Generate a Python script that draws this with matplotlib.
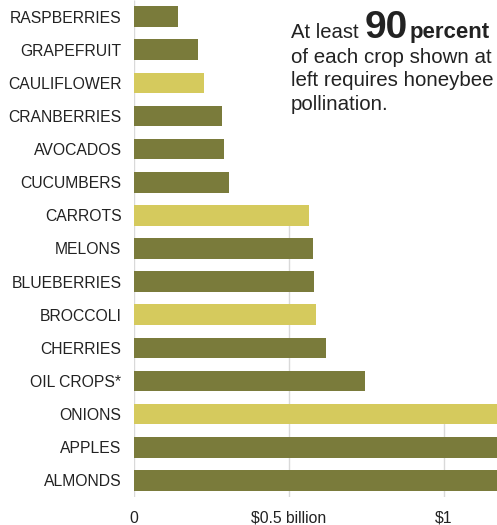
import matplotlib
matplotlib.use("Agg")
import matplotlib.pyplot as plt

# === DATA (billions of dollars) ===
crops = ["RASPBERRIES", "GRAPEFRUIT", "CAULIFLOWER", "CRANBERRIES", "AVOCADOS",
         "CUCUMBERS", "CARROTS", "MELONS", "BLUEBERRIES", "BROCCOLI",
         "CHERRIES", "OIL CROPS*", "ONIONS", "APPLES", "ALMONDS"]
values = [0.142, 0.206, 0.226, 0.284, 0.290,
          0.307, 0.563, 0.577, 0.581, 0.588,
          0.620, 0.746, 1.30, 1.60, 4.00]
vegetable = [False, False, True, False, False,
             False, True, False, False, True,
             False, False, True, False, False]
tick_vals = [0, 0.5, 1]
tick_labels = ["0", "$0.5 billion", "$1"]

OLIVE = "#7a7b3b"
YELLOW = "#d5ca5d"
GRID = "#d9d9d9"
TEXT = "#222222"

plt.rcParams["font.family"] = ["Liberation Sans", "DejaVu Sans"]

fig = plt.figure(figsize=(4.97, 5.25), dpi=100)
ax = fig.add_axes([134 / 497, 28 / 525, 363 / 497, 497 / 525])

ypos = list(range(len(crops)))
colors = [YELLOW if v else OLIVE for v in vegetable]
ax.barh(ypos, values, height=0.62, color=colors, zorder=2)

# gridlines start at the first bar that reaches them
for t in tick_vals:
    first = next((i for i, v in enumerate(values) if v > t and t > 0), None)
    top = -0.5 if first is None else first
    ax.vlines(t, top, len(crops) - 0.5, color=GRID, lw=1, zorder=1)

ax.set_xlim(0, 1.171)
ax.set_ylim(len(crops) - 0.5, -0.5)
ax.set_yticks(ypos)
ax.set_yticklabels(crops, fontsize=11.3, color=TEXT)
ax.set_xticks(tick_vals)
ax.set_xticklabels(tick_labels, fontsize=11.3, color=TEXT)
ax.tick_params(axis="both", length=0)
ax.tick_params(axis="y", pad=9)
ax.tick_params(axis="x", pad=10)
for s in ax.spines.values():
    s.set_visible(False)

# === annotation top right ===
renderer = fig.canvas.get_renderer()
x0, y0 = 291, 525 - 38
t1 = fig.text(x0 / 497, y0 / 525, "At least ", fontsize=14.6, color=TEXT)
bb = t1.get_window_extent(renderer)
t2 = fig.text(bb.x1 / 497, y0 / 525, "90", fontsize=28, fontweight="bold", color=TEXT)
bb = t2.get_window_extent(renderer)
fig.text((bb.x1 + 2) / 497, y0 / 525, "percent", fontsize=16, fontweight="bold", color=TEXT)
for k, line in enumerate(["of each crop shown at", "left requires honeybee", "pollination."]):
    fig.text(x0 / 497, (525 - 63 - 23.5 * k) / 525, line, fontsize=14.8, color=TEXT)

fig.savefig("out.png", dpi=100)
